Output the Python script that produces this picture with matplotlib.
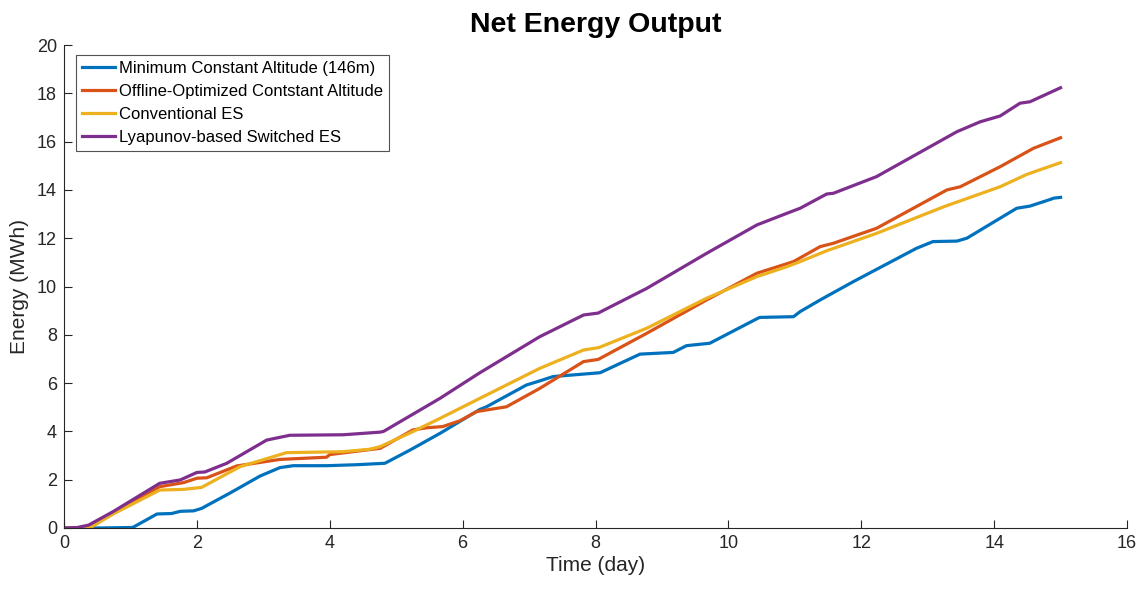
import matplotlib
matplotlib.use("Agg")
import matplotlib.pyplot as plt

plt.rcParams['font.family'] = ['Liberation Sans', 'DejaVu Sans']

# Minimum Constant Altitude (146m)
t_min = [0, 0.5, 1.0, 1.04, 1.40, 1.62, 1.75, 1.95, 2.07, 2.5, 2.95, 3.25, 3.45, 3.95, 4.4, 4.83,
         5.21, 5.66, 6.26, 6.36, 6.96, 7.16, 7.36, 8.07, 8.67, 9.17, 9.37, 9.72, 10.37, 10.47, 10.98,
         11.08, 11.38, 11.88, 12.83, 13.08, 13.44, 13.59, 14.34, 14.54, 14.84, 14.9, 15.0]
e_min = [0, 0, 0.02, 0.03, 0.58, 0.60, 0.69, 0.71, 0.81, 1.45, 2.15, 2.5, 2.58, 2.58, 2.62, 2.68,
         3.23, 3.92, 4.91, 5.02, 5.92, 6.09, 6.27, 6.43, 7.2, 7.27, 7.55, 7.65, 8.58, 8.72, 8.75,
         8.96, 9.44, 10.2, 11.58, 11.86, 11.88, 12.0, 13.24, 13.33, 13.6, 13.66, 13.69]

# Offline-Optimized Contstant Altitude
t_off = [0, 0.3, 0.36, 0.74, 1.44, 1.8, 2.0, 2.15, 2.6, 3.25, 3.95, 4.0, 4.76, 5.25, 5.46, 5.7,
         5.96, 6.21, 6.66, 7.16, 7.82, 8.04, 8.77, 9.67, 10.43, 10.98, 11.38, 11.58, 12.23, 13.29,
         13.49, 14.09, 14.59, 15.0]
e_off = [0, 0, 0.02, 0.62, 1.71, 1.88, 2.06, 2.08, 2.57, 2.84, 2.93, 3.04, 3.3, 4.06, 4.15, 4.2,
         4.44, 4.82, 5.02, 5.78, 6.89, 6.98, 8.06, 9.44, 10.55, 11.03, 11.65, 11.79, 12.41, 14.0,
         14.13, 14.96, 15.72, 16.16]

# Conventional ES
t_conv = [0, 0.3, 0.4, 0.74, 1.44, 1.8, 2.07, 2.65, 3.35, 4.2, 4.6, 4.76, 5.25, 5.66, 6.26,
          7.16, 7.82, 8.05, 8.77, 9.67, 10.43, 10.88, 11.08, 11.48, 12.23, 13.24, 14.09, 14.49, 15.0]
e_conv = [0, 0, 0.02, 0.58, 1.57, 1.6, 1.68, 2.54, 3.12, 3.16, 3.26, 3.37, 3.99, 4.54, 5.37,
          6.61, 7.37, 7.47, 8.27, 9.51, 10.41, 10.82, 11.03, 11.48, 12.2, 13.3, 14.13, 14.64, 15.13]

# Lyapunov-based Switched ES
t_lyap = [0, 0.2, 0.37, 0.74, 1.44, 1.75, 2.0, 2.12, 2.45, 3.05, 3.4, 4.2, 4.76, 4.81, 5.66,
          6.26, 7.16, 7.82, 8.04, 8.77, 9.67, 10.43, 10.88, 11.08, 11.48, 11.58, 12.23, 13.44,
          13.79, 14.09, 14.39, 14.54, 15.0]
e_lyap = [0, 0.02, 0.12, 0.68, 1.85, 1.99, 2.3, 2.32, 2.68, 3.64, 3.84, 3.86, 3.97, 4.0, 5.37,
          6.43, 7.92, 8.82, 8.9, 9.92, 11.37, 12.55, 13.03, 13.24, 13.83, 13.86, 14.55, 16.41,
          16.82, 17.06, 17.59, 17.65, 18.23]

labels = ['Minimum Constant Altitude (146m)', 'Offline-Optimized Contstant Altitude',
          'Conventional ES', 'Lyapunov-based Switched ES']
colors = ['#0072BD', '#D95319', '#EDB120', '#7E2F8E']

fig = plt.figure(figsize=(11.47, 5.91), dpi=100)
ax = fig.add_axes([64/1147, 1-528/591, (1127-64)/1147, (528-45)/591])

for (t, e), lab, c in zip([(t_min, e_min), (t_off, e_off), (t_conv, e_conv), (t_lyap, e_lyap)],
                          labels, colors):
    ax.plot(t, e, color=c, lw=2.3, label=lab, solid_joinstyle='round')

ax.set_xlim(0, 16)
ax.set_ylim(0, 20)
ax.set_xticks(range(0, 17, 2))
ax.set_yticks(range(0, 21, 2))
ax.spines['top'].set_visible(False)
ax.spines['right'].set_visible(False)
for s in ['left', 'bottom']:
    ax.spines[s].set_color('#262626')
    ax.spines[s].set_linewidth(0.8)
ax.tick_params(direction='in', length=6, width=0.8, colors='#262626', labelsize=13, pad=5)
ax.set_xlabel('Time (day)', fontsize=15, color='#262626', labelpad=3)
ax.set_ylabel('Energy (MWh)', fontsize=15, color='#262626', labelpad=6)
ax.set_title('Net Energy Output', fontsize=20.5, fontweight='bold', pad=9)

leg = ax.legend(loc='upper left', bbox_to_anchor=(12/1063, 1-10/483), fontsize=12,
                frameon=True, fancybox=False, edgecolor='#262626', handlelength=2.0,
                handletextpad=0.25, borderpad=0.35, labelspacing=0.48, borderaxespad=0)
leg.get_frame().set_linewidth(0.8)

fig.savefig('out.png', dpi=100)
